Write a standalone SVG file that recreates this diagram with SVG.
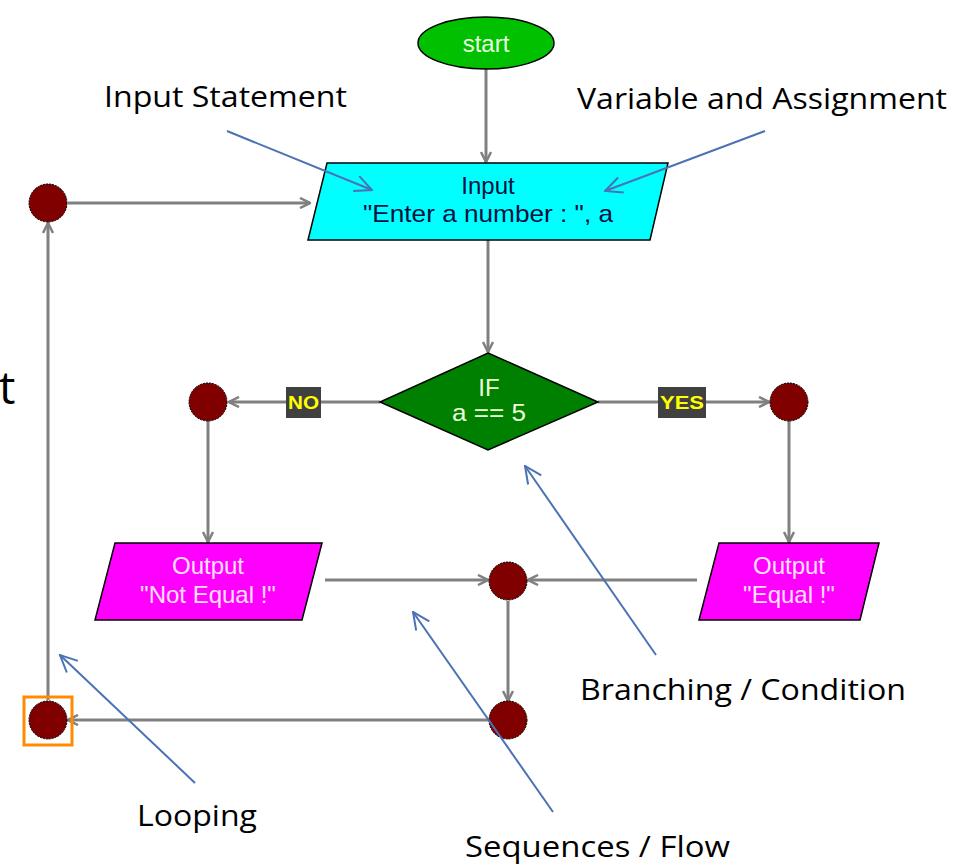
<svg xmlns="http://www.w3.org/2000/svg" width="971" height="868" viewBox="0 0 971 868">
<defs>
<marker id="ga" viewBox="0 0 12 12" refX="11" refY="6" markerWidth="12" markerHeight="12" markerUnits="userSpaceOnUse" orient="auto">
<path d="M1,1 L11,6 L1,11" fill="none" stroke="#808080" stroke-width="2.5"/>
</marker>
<marker id="ba" viewBox="0 0 20 20" refX="19" refY="10" markerWidth="20" markerHeight="20" markerUnits="userSpaceOnUse" orient="auto">
<path d="M2,2 L19,10 L2,18" fill="none" stroke="#4A72B4" stroke-width="2"/>
</marker>
</defs>
<style>
.c{stroke:#808080;stroke-width:3;fill:none}
.an{stroke:#4A72B4;stroke-width:2;fill:none}
.dot{fill:#800000;stroke:#000;stroke-width:1;stroke-dasharray:2 1}
.box{stroke:#000;stroke-width:1.5}
.t{font-family:"Liberation Sans",Arial,sans-serif;font-size:24px;text-anchor:middle}
.lab{font-family:"Open Sans","Noto Sans",sans-serif;font-size:30px;fill:#000}
.yn{font-family:"Liberation Sans",Arial,sans-serif;font-size:18px;font-weight:bold;fill:#FFFF00;text-anchor:middle}
</style>
<rect width="971" height="868" fill="#fff"/>

<g id="connectors">
<line class="c" x1="486" y1="69" x2="486" y2="162" marker-end="url(#ga)"/>
<line class="c" x1="68" y1="203" x2="310" y2="203" marker-end="url(#ga)"/>
<line class="c" x1="488" y1="240" x2="488" y2="352" marker-end="url(#ga)"/>
<line class="c" x1="380" y1="402" x2="229" y2="402" marker-end="url(#ga)"/>
<line class="c" x1="598" y1="402" x2="769" y2="402" marker-end="url(#ga)"/>
<line class="c" x1="208" y1="421" x2="208" y2="542" marker-end="url(#ga)"/>
<line class="c" x1="789" y1="421" x2="789" y2="542" marker-end="url(#ga)"/>
<line class="c" x1="325" y1="580" x2="488" y2="580" marker-end="url(#ga)"/>
<line class="c" x1="697" y1="580" x2="528" y2="580" marker-end="url(#ga)"/>
<line class="c" x1="508" y1="601" x2="508" y2="701" marker-end="url(#ga)"/>
<line class="c" x1="489" y1="720" x2="68" y2="720" marker-end="url(#ga)"/>
<line class="c" x1="48" y1="700" x2="48" y2="223" marker-end="url(#ga)"/>
</g>

<g id="start">
<ellipse cx="486" cy="43" rx="68" ry="26" fill="#00C000" stroke="#000" stroke-width="1.5"/>
<text class="t" x="486" y="52" fill="#E8FFE0">start</text>
</g>

<g id="input">
<polygon class="box" points="327,163 668,163 650,240 308,240" fill="#00FFFF"/>
<text class="t" x="488" y="194" fill="#001040">Input</text>
<text class="t" x="488" y="222" fill="#001040" textLength="250" lengthAdjust="spacingAndGlyphs">"Enter a number : ", a</text>
</g>

<g id="decision">
<polygon class="box" points="488,353 598,402 488,450 380,402" fill="#008000"/>
<text class="t" x="489" y="396" fill="#F0FFD8">IF</text>
<text class="t" x="489" y="421" fill="#F0FFD8" textLength="74" lengthAdjust="spacingAndGlyphs">a == 5</text>
</g>

<g id="label-no">
<rect x="286" y="387" width="35" height="31" fill="#404040"/>
<text class="yn" x="303.5" y="409" textLength="31" lengthAdjust="spacingAndGlyphs">NO</text>
</g>
<g id="label-yes">
<rect x="658" y="387" width="48" height="31" fill="#404040"/>
<text class="yn" x="682" y="409" textLength="44" lengthAdjust="spacingAndGlyphs">YES</text>
</g>

<g id="out-notequal">
<polygon class="box" points="115,543 322,543 302,620 95,620" fill="#FF00FF"/>
<text class="t" x="208" y="574" fill="#FFE0FF">Output</text>
<text class="t" x="208" y="603" fill="#FFE0FF">"Not Equal !"</text>
</g>

<g id="out-equal">
<polygon class="box" points="719,543 879,543 860,620 699,620" fill="#FF00FF"/>
<text class="t" x="789" y="574" fill="#FFE0FF">Output</text>
<text class="t" x="789" y="603" fill="#FFE0FF">"Equal !"</text>
</g>

<g id="dot-top"><circle class="dot" cx="48" cy="203" r="19"/></g>
<g id="dot-no"><circle class="dot" cx="208" cy="402" r="19"/></g>
<g id="dot-yes"><circle class="dot" cx="789" cy="402" r="19"/></g>
<g id="dot-merge"><circle class="dot" cx="508" cy="581" r="19"/></g>
<g id="dot-bottom"><circle class="dot" cx="508" cy="720" r="19"/></g>
<g id="dot-loop">
<rect x="24" y="697" width="48" height="48" fill="none" stroke="#FF8C00" stroke-width="3"/>
<circle class="dot" cx="48" cy="720" r="19"/>
</g>

<g id="annotations">
<line class="an" x1="227" y1="131" x2="372" y2="190" marker-end="url(#ba)"/>
<line class="an" x1="765" y1="131" x2="605" y2="191" marker-end="url(#ba)"/>
<line class="an" x1="656" y1="655" x2="525" y2="466" marker-end="url(#ba)"/>
<line class="an" x1="553" y1="812" x2="413" y2="612" marker-end="url(#ba)"/>
<line class="an" x1="195" y1="783" x2="60" y2="655" marker-end="url(#ba)"/>
<text class="lab" x="104" y="107" textLength="243" lengthAdjust="spacingAndGlyphs">Input Statement</text>
<text class="lab" x="577" y="109" textLength="370" lengthAdjust="spacingAndGlyphs">Variable and Assignment</text>
<text class="lab" x="580" y="700" textLength="326" lengthAdjust="spacingAndGlyphs">Branching / Condition</text>
<text class="lab" x="465" y="857" textLength="265" lengthAdjust="spacingAndGlyphs">Sequences / Flow</text>
<text class="lab" x="137" y="826" textLength="120" lengthAdjust="spacingAndGlyphs">Looping</text>
<text class="lab" x="-1" y="404" style="font-size:46px">t</text>
</g>
</svg>
